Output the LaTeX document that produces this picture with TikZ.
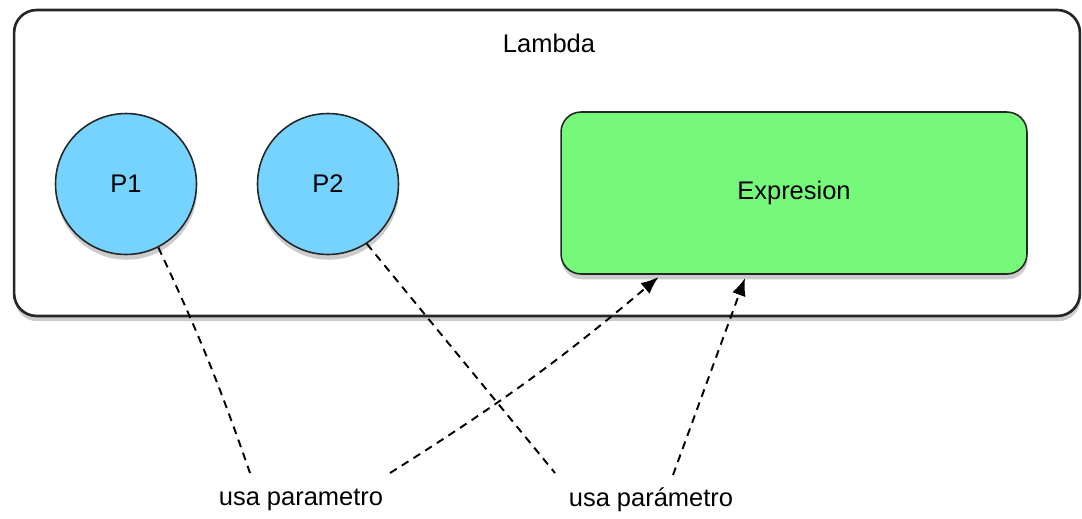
\documentclass[tikz,border=0pt]{standalone}
\usepackage{fontspec}
\setmainfont{Liberation Sans}
\usetikzlibrary{arrows.meta,shadows}

\definecolor{paramblue}{RGB}{118,211,253}
\definecolor{exprgreen}{RGB}{118,249,122}

\begin{document}
\begin{tikzpicture}[x=0.02cm, y=-0.02cm,
  every node/.style={font=\fontsize{14.5}{17}\selectfont},
  boxshadow/.style={drop shadow={shadow xshift=0.4pt, shadow yshift=-3pt, opacity=0.4}},
  param/.style={circle, draw=black!85, line width=0.9pt, fill=paramblue, minimum size=2.82cm, boxshadow},
  uses/.style={line width=1.1pt, dash pattern=on 4.5pt off 3.4pt},
  usearrow/.style={uses, -{Latex[length=10pt,width=8pt]}, shorten >=2pt}]
\useasboundingbox (0,0) rectangle (1082,518);

\node[draw=black!85, line width=1.5pt, rounded corners=0.45cm, fill=white, minimum width=21.32cm, minimum height=6.12cm, boxshadow] (lambda box) at (547,163) {};
\node (lambda) at (549,43) {Lambda};

\node[param] (p1) at (126,184) {P1};
\node[param] (p2) at (328,184) {P2};

\node[draw=black!85, line width=0.9pt, rounded corners=0.4cm, fill=exprgreen, minimum width=9.32cm, minimum height=3.24cm, boxshadow] (expr) at (794,193) {Expresion};

\node (use1) at (301,500) {usa parametro};
\node (use2) at (651,500) {usa parámetro};

\coordinate (use1 left) at (250,473);
\coordinate (use1 right) at (390,473);
\coordinate (use2 left) at (555,473);
\coordinate (use2 right) at (673,475);

\draw[uses] (p1.-63) to[bend left=3] (use1 left);
\draw[uses] (p2.-57) -- (use2 left);
\draw[usearrow] (use1 right) to[bend right=4] ([xshift=2.02cm]expr.south west);
\draw[usearrow] (use2 right) -- ([xshift=3.72cm]expr.south west);
\end{tikzpicture}
\end{document}
